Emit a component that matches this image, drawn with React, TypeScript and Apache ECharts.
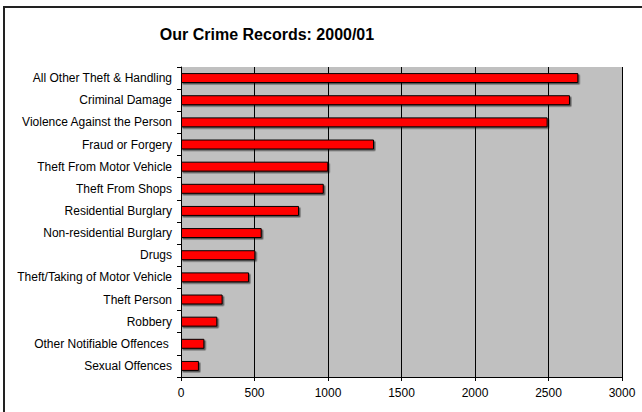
import React, { useEffect, useRef } from "react";
import * as echarts from "echarts";

const categories = [
  "All Other Theft & Handling",
  "Criminal Damage",
  "Violence Against the Person",
  "Fraud or Forgery",
  "Theft From Motor Vehicle",
  "Theft From Shops",
  "Residential Burglary",
  "Non-residential Burglary",
  "Drugs",
  "Theft/Taking of Motor Vehicle",
  "Theft Person",
  "Robbery",
  "Other Notifiable Offences ",
  "Sexual Offences",
];
const values = [2703, 2646, 2494, 1313, 1002, 971, 803, 549, 506, 463, 283, 247, 159, 122];
const titleText = "Our Crime Records: 2000/01";

export default function App() {
  const ref = useRef<HTMLDivElement>(null);
  useEffect(() => {
    const chart = echarts.init(ref.current!, undefined, { renderer: "svg" });
    const font = "'Liberation Sans', Arial, sans-serif";
    chart.setOption({
      animation: false,
      backgroundColor: "#ffffff",
      title: {
        text: titleText,
        left: 262,
        top: 21,
        textAlign: "center",
        textStyle: { fontFamily: font, fontSize: 16, fontWeight: "bold", color: "#000" },
      },
      graphic: [
        {
          type: "rect",
          shape: { x: 4, y: 7, width: 700, height: 500 },
          style: { fill: "none", stroke: "#222", lineWidth: 2 },
          silent: true,
        },
      ],
      grid: {
        left: 181,
        right: 20,
        top: 67,
        bottom: 35,
        show: true,
        backgroundColor: "#c0c0c0",
        borderWidth: 0,
      },
      xAxis: {
        type: "value",
        min: 0,
        max: 3000,
        interval: 500,
        axisLine: { show: true, lineStyle: { color: "#000", width: 1 } },
        axisTick: { show: true, length: 4, lineStyle: { color: "#000" } },
        axisLabel: {
          fontFamily: font,
          fontSize: 12,
          color: "#000",
          margin: 10,
          formatter: (v: number) => String(v),
        },
        splitLine: { show: true, lineStyle: { color: "#000", width: 1 } },
      },
      yAxis: {
        type: "category",
        inverse: true,
        data: categories,
        axisLine: { show: true, lineStyle: { color: "#000", width: 1 } },
        axisTick: { show: true, length: 4, lineStyle: { color: "#000" } },
        axisLabel: { fontFamily: font, fontSize: 12, color: "#000", margin: 9 },
        splitLine: { show: false },
      },
      series: [
        {
          type: "bar",
          data: values,
          barCategoryGap: "55%",
          itemStyle: {
            color: "#ff0000",
            borderColor: "#000",
            borderWidth: 1,
            shadowColor: "rgba(0,0,0,0.55)",
            shadowBlur: 0,
            shadowOffsetX: 1.5,
            shadowOffsetY: 1.5,
          },
        },
      ],
    });
    return () => chart.dispose();
  }, []);
  return (
    <div
      ref={ref}
      style={{ position: "fixed", left: 0, top: 0, width: 642, height: 412 }}
    />
  );
}
